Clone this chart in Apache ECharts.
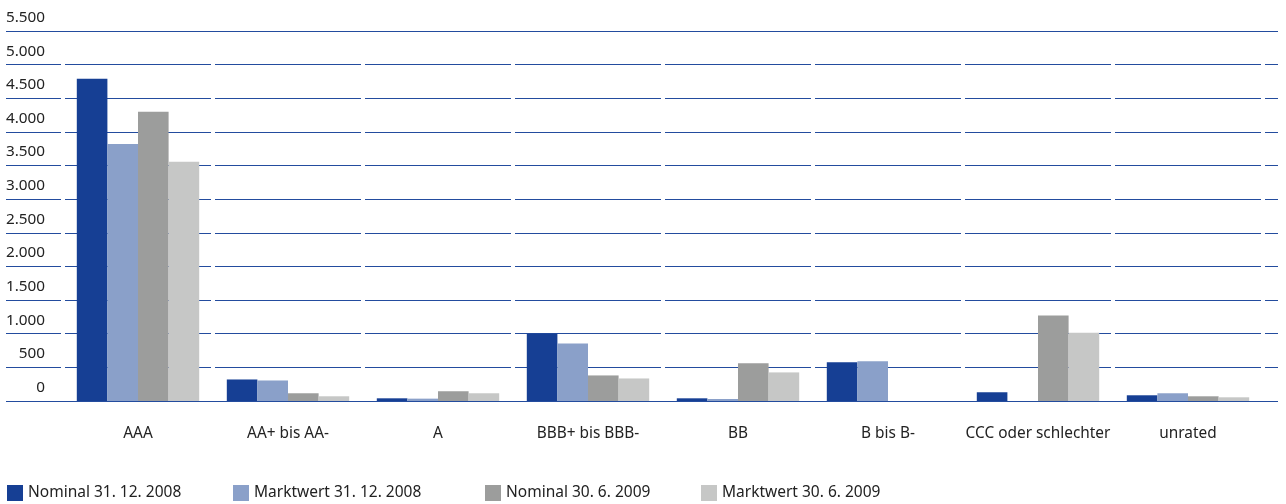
<!DOCTYPE html>
<html>
<head>
<meta charset="utf-8">
<script src="https://cdn.jsdelivr.net/npm/echarts@6/dist/echarts.min.js"></script>
<style>
html,body{margin:0;padding:0;background:#fff;}
#c{width:1286px;height:504px;}
</style>
</head>
<body>
<div id="c"></div>
<script>
const categories = ['AAA', 'AA+ bis AA-', 'A', 'BBB+ bis BBB-', 'BB', 'B bis B-', 'CCC oder schlechter', 'unrated'];
const seriesNames = ['Nominal 31. 12. 2008', 'Marktwert 31. 12. 2008', 'Nominal 30. 6. 2009', 'Marktwert 30. 6. 2009'];
const nominal2008 = [4790, 320, 40, 1000, 40, 575, 130, 85];
const markt2008 = [3820, 305, 35, 855, 30, 590, 0, 115];
const nominal2009 = [4300, 115, 145, 380, 560, 0, 1270, 70];
const markt2009 = [3555, 70, 115, 335, 425, 0, 1015, 55];
const yTicks = [0, 500, 1000, 1500, 2000, 2500, 3000, 3500, 4000, 4500, 5000, 5500];

const colors = ['#163f94', '#8aa0c9', '#9c9d9c', '#c6c7c6'];
const FONT = 'Noto Sans';
const fmt = v => String(v).replace(/\B(?=(\d{3})+(?!\d))/g, '.');

const chart = echarts.init(document.getElementById('c'));
const dataSets = [nominal2008, markt2008, nominal2009, markt2009];
const legendLefts = [7, 233, 485, 701];

const option = {
  animation: false,
  textStyle: { fontFamily: FONT },
  grid: [
    { left: 6, right: 8, top: 31, bottom: 103 },
    { left: 63, right: 23, top: 31, bottom: 103 },
    { left: 63, right: 23, top: 33, bottom: 105 }
  ],
  xAxis: [
    { gridIndex: 0, type: 'category', data: [''], show: false },
    {
      gridIndex: 1, type: 'category', data: categories,
      axisLine: { show: false }, axisTick: { show: false },
      axisLabel: { margin: 25, fontSize: 15.4, color: '#222', fontFamily: FONT, interval: 0 },
      splitLine: { show: false }
    },
    {
      gridIndex: 2, type: 'category', data: categories, z: 1,
      axisLine: { show: false }, axisTick: { show: false }, axisLabel: { show: false },
      splitLine: { show: true, interval: 0, lineStyle: { color: '#ffffff', width: 4 } }
    }
  ],
  yAxis: [
    {
      gridIndex: 0, type: 'value', min: yTicks[0], max: yTicks[yTicks.length - 1], interval: 500, z: 0,
      axisLine: { show: false }, axisTick: { show: false }, axisLabel: { show: false },
      splitLine: { show: true, lineStyle: { color: '#234c9e', width: 1.2 } }
    },
    {
      gridIndex: 1, type: 'value', min: yTicks[0], max: yTicks[yTicks.length - 1], interval: 500,
      axisLine: { show: false }, axisTick: { show: false }, splitLine: { show: false },
      axisLabel: {
        margin: 18, fontSize: 15.3, color: '#222', fontFamily: FONT,
        verticalAlign: 'bottom', padding: [0, 0, 6, 0],
        formatter: v => fmt(v)
      }
    },
    { gridIndex: 2, type: 'value', show: false, splitLine: { show: false } }
  ],
  legend: seriesNames.map((n, i) => ({
    data: [n], left: legendLefts[i], top: 485, padding: 0,
    itemWidth: 16, itemHeight: 16, itemGap: 0, icon: 'rect',
    textStyle: { fontSize: 15.5, color: '#222', fontFamily: FONT, padding: [6, 0, 0, 0] }
  })),
  series: seriesNames.map((n, i) => ({
    name: n, type: 'bar', xAxisIndex: 1, yAxisIndex: 1,
    data: dataSets[i], barGap: 0, barCategoryGap: '18.4%',
    itemStyle: { color: colors[i] }, z: 2
  }))
};
chart.setOption(option);
</script>
</body>
</html>
